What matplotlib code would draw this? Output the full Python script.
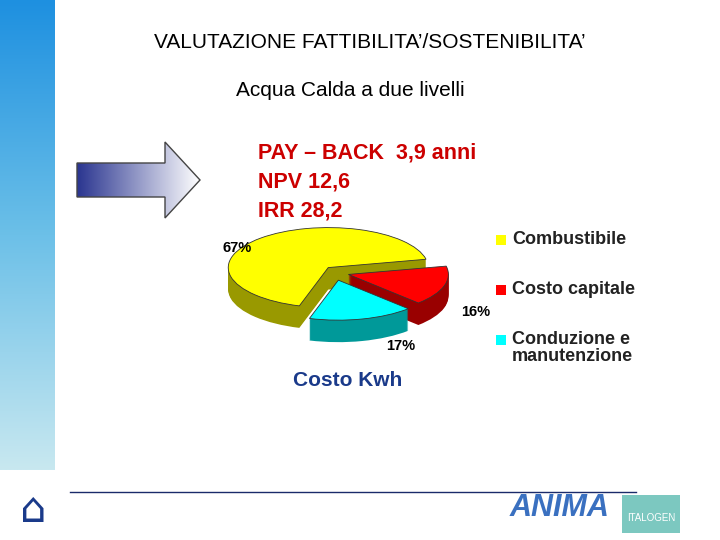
import numpy as np
import matplotlib.pyplot as plt
from matplotlib.patches import Wedge, Polygon, Rectangle
from matplotlib.transforms import Affine2D
import matplotlib.colors as mcolors

plt.rcParams['font.family'] = ['Liberation Sans', 'DejaVu Sans']

categories = ["Combustibile", "Costo capitale", "Conduzione e\nmanutenzione"]
values = [67, 16, 17]
pct_labels = ["67%", "16%", "17%"]
colors = ["#ffff00", "#ff0000", "#00ffff"]
side_colors = ["#999900", "#990000", "#009999"]

fig = plt.figure(figsize=(7.2, 5.4), dpi=100)
bg = fig.add_axes([0, 0, 1, 1])
bg.set_xlim(0, 720)
bg.set_ylim(540, 0)
bg.axis("off")

# left gradient band
grad = np.linspace(0, 1, 256).reshape(-1, 1)
cmap_band = mcolors.LinearSegmentedColormap.from_list("b", ["#1e90e0", "#6cc0e8", "#c8e8f0"])
bg.imshow(grad, cmap=cmap_band, extent=[0, 55, 470, 0], aspect="auto")

# arrow with gradient
cmap_arr = mcolors.LinearSegmentedColormap.from_list("a", ["#2a3590", "#ffffff"])
im = bg.imshow(np.linspace(0, 1, 256).reshape(1, -1), cmap=cmap_arr,
               extent=[77, 200, 218, 142], aspect="auto")
arrow = Polygon([(77, 163), (165, 163), (165, 142), (200, 180), (165, 218),
                 (165, 197), (77, 197)], closed=True, facecolor="none",
                edgecolor="#444444", lw=1)
bg.add_patch(arrow)
im.set_clip_path(arrow)

bg.text(370, 42, "VALUTAZIONE FATTIBILITA’/SOSTENIBILITA’", ha="center", va="center", fontsize=15)
bg.text(350, 90, "Acqua Calda a due livelli", ha="center", va="center", fontsize=15)
for i, t in enumerate(["PAY – BACK  3,9 anni", "NPV 12,6", "IRR 28,2"]):
    bg.text(258, 153 + i * 29, t, color="#cc0000", fontsize=15.5, fontweight="bold", va="center")
bg.text(348, 380, "Costo Kwh", color="#1a3a8a", fontsize=15, fontweight="bold", ha="center", va="center")

# legend
for i, (c, lab) in enumerate(zip(colors, categories)):
    y = 240 + i * 50
    bg.add_patch(Rectangle((496, y - 5), 10, 10, facecolor=c, edgecolor="none"))
    bg.text(512, y - 9, lab, fontsize=13, fontweight="bold", color="#222222", va="top", linespacing=1.0)

# bottom line and logos
bg.plot([70, 636], [492, 492], color="#1a2a6a", lw=1)
bg.text(560, 508, "ANIMA", fontsize=22, fontweight="bold", style="italic", color="#3a70c0", ha="center", va="center")
bg.add_patch(Rectangle((622, 495), 58, 38, facecolor="#7cc8c0", edgecolor="none"))
bg.text(651, 518, "ITALOGEN", fontsize=7, color="white", ha="center", va="center")
bg.text(33, 510, "⌂", fontsize=30, color="#1a3a8a", family="DejaVu Sans", ha="center", va="center")

# 3D pie in a squashed frame; angle order: yellow, cyan, red (counterclockwise)
cx, cy, rx, ry, depth = 335, 272, 100, 40, 22
scale = rx / ry
order = [0, 2, 1]
explode = [10, 14, 14]
tr = Affine2D().scale(1, -1 / scale) + bg.transData
pieces = {}
a = 12.0
for i in order:
    a0, a1 = a, a + values[i] * 3.6
    a = a1
    mid = np.deg2rad((a0 + a1) / 2)
    ox, oy = explode[i] * np.cos(mid), explode[i] * np.sin(mid) * scale * 0.6
    pieces[i] = (a0, a1, cx + ox, -cy * scale + oy)
for k in range(depth, 0, -1):
    for i in order:
        t0, t1, px, py = pieces[i]
        w = Wedge((px, py - k * scale), rx, t0, t1, facecolor=side_colors[i], edgecolor="none")
        w.set_transform(tr)
        bg.add_patch(w)
for i in order:
    t0, t1, px, py = pieces[i]
    w = Wedge((px, py), rx, t0, t1, facecolor=colors[i], edgecolor="#333333", lw=0.6)
    w.set_transform(tr)
    bg.add_patch(w)

bg.text(237, 248, pct_labels[0], fontsize=10.5, fontweight="bold", ha="center", va="center")
bg.text(476, 312, pct_labels[1], fontsize=10.5, fontweight="bold", ha="center", va="center")
bg.text(401, 346, pct_labels[2], fontsize=10.5, fontweight="bold", ha="center", va="center")

fig.savefig("out.png", dpi=100)
